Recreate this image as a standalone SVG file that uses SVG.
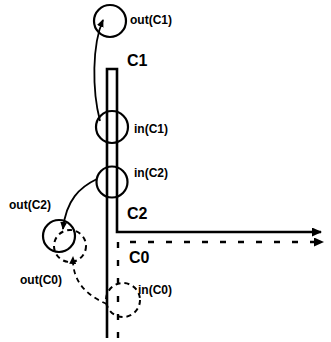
<svg xmlns="http://www.w3.org/2000/svg" width="331" height="342" viewBox="0 0 331 342">
<style>
.lbl{font-family:"Liberation Sans",Arial,sans-serif;font-weight:bold;fill:#000;font-size:12px}
.big{font-size:16px}
.solid{fill:none;stroke:#000;stroke-width:2.6}
.dash{fill:none;stroke:#000;stroke-width:2.4;stroke-dasharray:6 12}
.dcirc{fill:none;stroke:#000;stroke-width:2;stroke-dasharray:5 4}
.circ{fill:none;stroke:#000;stroke-width:2.2}
.curve{fill:none;stroke:#000;stroke-width:1.8}
</style>
<defs>
<marker id="ah" markerWidth="10" markerHeight="9" refX="9" refY="4.5" orient="auto" markerUnits="userSpaceOnUse">
<path d="M0,0 L10,4.5 L0,9 Z" fill="#000"/>
</marker>
<marker id="sh" markerWidth="8" markerHeight="7" refX="7" refY="3.5" orient="auto" markerUnits="userSpaceOnUse">
<path d="M0,0 L8,3.5 L0,7 Z" fill="#000"/>
</marker>
</defs>
<g id="connectors">
<path id="channel-C1-C2" class="solid" d="M107,338 L107,69 L117,69 L117,232 L321,232" marker-end="url(#ah)"/>
<path id="channel-C0" class="dash" d="M118,338 L118,242 L323,242" marker-end="url(#ah)"/>
<path id="arc-C1" class="curve" d="M100,121 C92,90 92,45 103,20" marker-end="url(#sh)"/>
<path id="arc-C2" class="curve" d="M97,179 C80,187 66,200 63,229" marker-end="url(#sh)"/>
<path id="arc-C0" class="curve" stroke-dasharray="5 4" d="M107,304 C85,295 72,280 73,257" marker-end="url(#sh)"/>
</g>
<g id="out-C1">
<circle class="circ" cx="110" cy="21" r="16"/>
<text class="lbl" x="130" y="24">out(C1)</text>
</g>
<g id="label-C1"><text class="lbl big" x="127" y="66">C1</text></g>
<g id="in-C1">
<circle class="circ" cx="112" cy="127" r="16"/>
<text class="lbl" x="134" y="133">in(C1)</text>
</g>
<g id="in-C2">
<circle class="circ" cx="112" cy="182" r="15.5"/>
<text class="lbl" x="134" y="177">in(C2)</text>
</g>
<g id="label-C2"><text class="lbl big" x="127" y="219">C2</text></g>
<g id="label-C0"><text class="lbl big" x="129" y="263">C0</text></g>
<g id="out-C2">
<circle class="circ" cx="59" cy="236" r="16"/>
<text class="lbl" x="9" y="209">out(C2)</text>
</g>
<g id="out-C0">
<circle class="dcirc" cx="70" cy="246" r="16"/>
<text class="lbl" x="20" y="284">out(C0)</text>
</g>
<g id="in-C0">
<circle class="dcirc" cx="123" cy="300" r="17"/>
<text class="lbl" x="138" y="294">in(C0)</text>
</g>
</svg>
